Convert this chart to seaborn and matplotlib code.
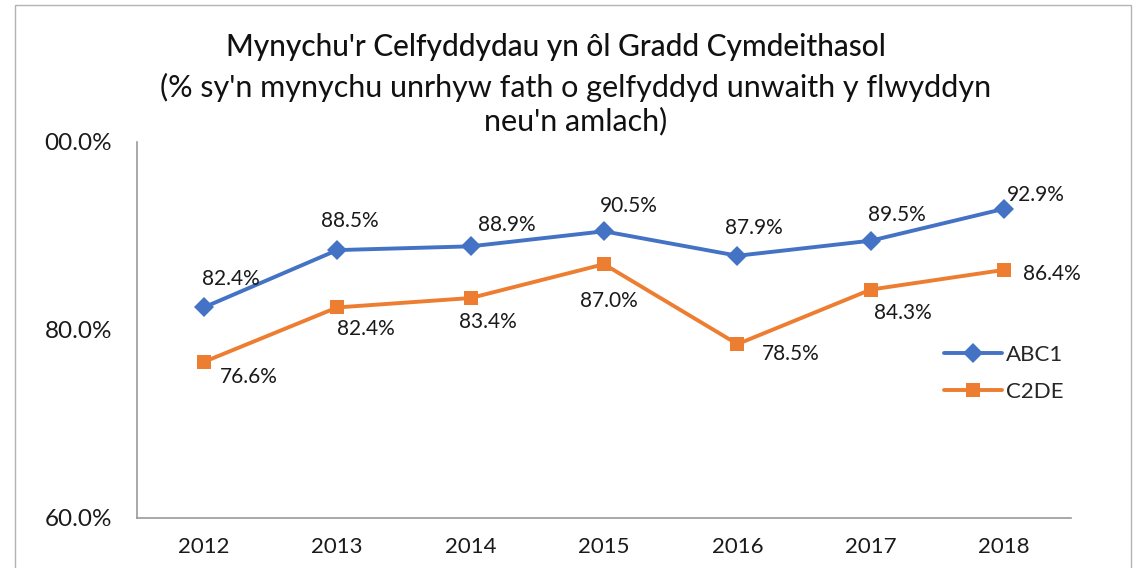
import pandas as pd
import matplotlib
matplotlib.use('Agg')
import matplotlib.pyplot as plt
from matplotlib.patches import Rectangle
import seaborn as sns

# Data
blynyddoedd = [2012, 2013, 2014, 2015, 2016, 2017, 2018]
abc1 = [82.4, 88.5, 88.9, 90.5, 87.9, 89.5, 92.9]
c2de = [76.6, 82.4, 83.4, 87.0, 78.5, 84.3, 86.4]
grwpiau = ['ABC1', 'C2DE']
ytick_vals = [60, 80, 100]
ytick_labels = ['60.0%', '80.0%', '00.0%']

teitl = "Mynychu'r Celfyddydau yn ôl Gradd Cymdeithasol"
is_teitl = "(% sy'n mynychu unrhyw fath o gelfyddyd unwaith y flwyddyn\nneu'n amlach)"

# label offsets in pixels (dx, dy up)
offs_abc1 = [(27, 28), (13, 29), (36, 21), (25, 25), (16, 28), (26, 26), (32, 14)]
offs_c2de = [(45, -15), (29, -22), (17, -24), (5, -37), (53, -10), (32, -23), (48, -4)]

df = pd.DataFrame({
    'Blwyddyn': blynyddoedd * 2,
    'Canran': abc1 + c2de,
    'Grŵp': [grwpiau[0]] * len(abc1) + [grwpiau[1]] * len(c2de),
})

sns.set_theme(style='white')
plt.rcParams['font.family'] = ['Lato', 'DejaVu Sans']

fig = plt.figure(figsize=(11.37, 5.68), dpi=100)
ax = fig.add_axes([137 / 1137, 50 / 568, (1071 - 137) / 1137, (518 - 142) / 568])

lliwiau = {'ABC1': '#4472C4', 'C2DE': '#ED7D31'}
sns.lineplot(data=df, x='Blwyddyn', y='Canran', hue='Grŵp', style='Grŵp',
             palette=lliwiau, markers={'ABC1': 'D', 'C2DE': 's'}, dashes=False,
             linewidth=2.8, markersize=10.5, markeredgewidth=0, ax=ax)

# labeli data
for vals, offs in [(abc1, offs_abc1), (c2de, offs_c2de)]:
    for x, y, (dx, dy) in zip(blynyddoedd, vals, offs):
        ax.annotate(f'{y:.1f}%', (x, y), xytext=(dx, dy), textcoords='offset pixels',
                    ha='center', va='center', fontsize=15, color='#1a1a1a')

ax.set_xlim(2011.5, 2018.5)
ax.set_ylim(60, 100)
ax.set_xticks(blynyddoedd)
ax.set_yticks(ytick_vals, labels=ytick_labels)
ax.set_xlabel('')
ax.set_ylabel('')
ax.tick_params(axis='x', length=0, pad=14, labelsize=16, colors='#1a1a1a')
ax.tick_params(axis='y', length=0, pad=18, labelsize=17.5, colors='#1a1a1a')
for s in ['top', 'right']:
    ax.spines[s].set_visible(False)
for s in ['left', 'bottom']:
    ax.spines[s].set_color('#9a9a9a')
    ax.spines[s].set_linewidth(1.2)

sns.move_legend(ax, 'upper left', bbox_to_anchor=(933 / 1137, 1 - 334 / 568),
                bbox_transform=fig.transFigure, title=None, frameon=False,
                fontsize=16, borderpad=0, handlelength=2.6, handletextpad=0.2,
                labelspacing=0.75)

fig.text(556 / 1137, 1 - 47 / 568, teitl, ha='center', va='center',
         fontsize=21.5, fontweight='medium', color='#111111')
fig.text(576 / 1137, 1 - 104 / 568, is_teitl, ha='center', va='center',
         fontsize=22, color='#111111', linespacing=1.2)

# border of the chart area
fig.patches.append(Rectangle((15 / 1137, -0.02), (1131 - 15) / 1137, 1.02 - 5 / 568,
                             transform=fig.transFigure, fill=False,
                             edgecolor='#b3b3b3', linewidth=1))

fig.savefig('out.png', dpi=100)
